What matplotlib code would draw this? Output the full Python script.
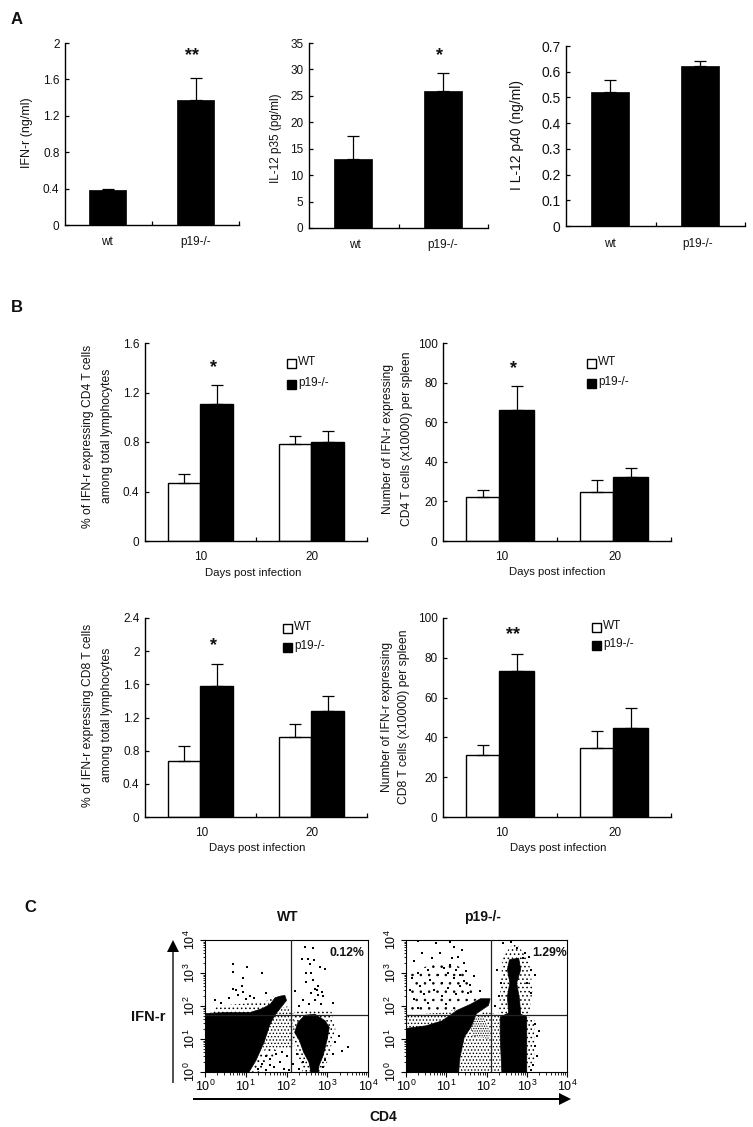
import math
import matplotlib
matplotlib.use("Agg")
import matplotlib.pyplot as plt
from matplotlib.patches import Polygon, Rectangle, FancyArrow
from matplotlib.ticker import LogLocator, NullFormatter, FuncFormatter

plt.rcParams['font.family'] = ['Liberation Sans', 'DejaVu Sans']
plt.rcParams['mathtext.fontset'] = 'custom'
plt.rcParams['mathtext.rm'] = 'Liberation Sans'
plt.rcParams['hatch.linewidth'] = 0.6

W, H = 753, 1127

# Panel A
genotypes = ['wt', 'p19-/-']
ifn_mean = [0.38, 1.37]
ifn_err = [0.02, 0.25]
p35_mean = [13, 26]
p35_err = [4.4, 3.4]
p40_mean = [0.52, 0.622]
p40_err = [0.048, 0.018]

# Panel B
days = ['10', '20']
cd4_pct_wt = [0.465, 0.785]
cd4_pct_wt_err = [0.075, 0.065]
cd4_pct_ko = [1.11, 0.80]
cd4_pct_ko_err = [0.15, 0.085]
cd4_num_wt = [22, 25]
cd4_num_wt_err = [4, 6]
cd4_num_ko = [66, 32.5]
cd4_num_ko_err = [12.5, 4.5]
cd8_pct_wt = [0.68, 0.97]
cd8_pct_wt_err = [0.18, 0.15]
cd8_pct_ko = [1.58, 1.28]
cd8_pct_ko_err = [0.27, 0.18]
cd8_num_wt = [31, 34.5]
cd8_num_wt_err = [5, 8.5]
cd8_num_ko = [73.5, 44.5]
cd8_num_ko_err = [8.5, 10.5]

# Panel C, everything in log10 units of the two stains
wt_dense = [
    [(0, 1.77), (0.5, 1.8), (1.1, 1.8), (1.4, 1.92), (1.6, 2.05), (1.72, 2.25), (1.85, 2.3), (1.96, 2.32),
     (2.0, 2.17), (1.84, 1.92), (1.71, 1.72), (1.58, 1.4), (1.45, 0.9), (1.25, 0.35), (1.08, 0), (0, 0)],
    [(2.28, 1.5), (2.45, 1.72), (2.7, 1.75), (2.95, 1.55), (3.05, 1.35), (3.0, 1.0), (2.9, 0.5),
     (2.8, 0.2), (2.78, 0), (2.6, 0), (2.55, 0.3), (2.42, 0.6), (2.32, 0.95), (2.2, 1.2)],
]
wt_speckle = [
    ([(0.1, 1.75), (0.3, 2.0), (1.0, 2.08), (1.5, 2.15), (1.7, 2.3), (1.7, 1.75)], '....'),
    ([(1.45, 1.8), (2.05, 2.0), (2.3, 1.5), (2.25, 0.95), (2.1, 0.7), (1.6, 0.7), (1.4, 0.6), (1.5, 1.2)], '.....'),
    ([(2.2, 1.9), (3.1, 1.85), (3.2, 1.3), (3.0, 0.3), (2.85, 0), (2.4, 0), (2.15, 1.0)], '....'),
    ([(1.0, 0), (1.3, 0.5), (1.6, 0.75), (1.85, 0.6), (1.5, 0.3), (1.4, 0)], '...'),
]
wt_dots = [
    (0.69, 3.27), (1.02, 3.19), (0.69, 3.02), (1.39, 3.0), (0.94, 2.84), (0.9, 2.62), (0.69, 2.52),
    (0.77, 2.47), (0.94, 2.42), (0.8, 2.32), (1.1, 2.3), (0.6, 2.25), (1.0, 2.2), (1.2, 2.25),
    (1.5, 2.4), (0.25, 2.17), (0.4, 2.1), (2.45, 3.79), (2.64, 3.77), (2.37, 3.42), (2.53, 3.42),
    (2.67, 3.39), (2.57, 3.27), (2.82, 3.19), (2.94, 3.12), (2.61, 2.99), (2.49, 2.99), (2.65, 2.79),
    (2.47, 2.72), (2.78, 2.62), (2.69, 2.52), (2.86, 2.42), (2.78, 2.32), (2.41, 2.17), (2.69, 2.17),
    (2.75, 2.47), (2.6, 2.4), (2.9, 2.3), (3.15, 2.1), (2.55, 2.05), (2.3, 2.0), (2.85, 2.05),
    (2.2, 2.45), (3.3, 1.1), (3.5, 0.75), (3.35, 0.65), (3.2, 0.9), (3.15, 0.55), (1.3, 0.1),
    (1.4, 0.25), (1.5, 0.05), (1.6, 0.4), (1.7, 0.15), (1.85, 0.3), (1.5, 0.5), (1.75, 0.55),
    (1.95, 0.1), (2.0, 0.5), (2.15, 0.25), (2.3, 0.1), (2.4, 0.3), (2.25, 0.55), (2.9, 0.15),
    (2.95, 0.35), (1.25, 0.45), (1.6, 0.2), (2.05, 0.05), (1.9, 0.6),
]
ko_dense = [
    [(0, 1.32), (0.5, 1.40), (0.9, 1.55), (1.27, 1.87), (1.6, 2.05), (1.85, 2.22), (2.09, 2.22),
     (2.05, 2.02), (1.75, 1.77), (1.62, 1.37), (1.45, 1.07), (1.33, 0.37), (1.31, 0), (0, 0)],
    [(2.34, 1.67), (2.52, 1.77), (2.85, 1.75), (3.0, 1.67), (3.0, 0), (2.38, 0), (2.34, 1.07)],
    [(2.55, 1.75), (2.52, 2.3), (2.58, 2.7), (2.52, 3.1), (2.57, 3.4), (2.8, 3.45), (2.85, 3.1),
     (2.75, 2.7), (2.82, 2.2), (2.85, 1.75)],
]
ko_speckle = [
    ([(1.3, 0), (1.45, 1.1), (1.65, 1.55), (1.95, 1.85), (2.35, 1.7), (2.35, 0)], '.....'),
    ([(1.65, 1.1), (1.6, 1.6), (1.9, 1.7), (2.1, 1.2), (2.05, 1.0)], '.......'),
    ([(0, 1.3), (0, 1.72), (0.9, 1.8), (1.25, 1.9), (0.9, 1.5), (0.5, 1.35)], '.....'),
    ([(0.1, 1.75), (0.1, 3.0), (0.9, 3.4), (1.5, 3.1), (1.8, 2.2), (1.2, 1.9)], '..'),
    ([(2.3, 1.7), (2.4, 3.5), (2.7, 3.95), (3.05, 3.4), (3.15, 2.5), (3.05, 1.7)], '....'),
    ([(2.95, 1.7), (3.2, 1.6), (3.2, 0.3), (2.95, 0.0)], '....'),
]
ko_dots = [
    (0.3, 3.97), (0.75, 3.9), (1.1, 3.95), (1.2, 3.8), (0.4, 3.6), (0.65, 3.45), (0.2, 3.35),
    (0.85, 3.6), (1.3, 3.5), (1.4, 3.7), (1.15, 3.45), (1.45, 3.3), (1.1, 3.25), (0.95, 3.15),
    (0.55, 3.1), (0.3, 3.0), (1.25, 3.1), (1.5, 3.05), (1.35, 2.95), (1.05, 3.0), (0.8, 2.95),
    (0.15, 2.85), (1.7, 2.9), (1.6, 2.65), (1.45, 2.75), (1.2, 2.85), (0.9, 2.7), (0.6, 2.8),
    (0.35, 2.6), (0.1, 2.5), (1.35, 2.6), (1.05, 2.55), (0.7, 2.5), (0.45, 2.35), (1.85, 2.45),
    (1.55, 2.4), (1.25, 2.35), (0.9, 2.3), (0.2, 2.2), (0.55, 2.1), (1.0, 2.05), (0.3, 1.95),
    (2.6, 3.95), (2.4, 3.9), (2.75, 3.75), (2.95, 3.6), (3.05, 3.5), (2.9, 3.45), (3.1, 3.1),
    (3.2, 2.95), (3.0, 2.7), (3.1, 2.4), (2.35, 2.7), (2.3, 2.3), (2.25, 3.1), (2.2, 2.0),
    (3.2, 1.45), (3.25, 1.1), (3.2, 0.8), (3.25, 0.5), (3.3, 1.25), (3.15, 0.2), (3.1, 0.05),
]

stain_ticks = [1, 10, 100, 1000, 10000]


def axes_px(left, top, right, bottom):
    return fig.add_axes([left / W, 1 - bottom / H, (right - left) / W, (bottom - top) / H])


def text_px(x, y, s, **kw):
    kw.setdefault('ha', 'center')
    kw.setdefault('va', 'center')
    kw.setdefault('color', '#111111')
    return fig.text(x / W, 1 - y / H, s, **kw)


def style_bar_axes(ax, ymax, yticks, fs):
    ax.set_xlim(0, 2)
    ax.set_ylim(0, ymax)
    ax.set_yticks(yticks)
    ax.set_yticklabels([f'{t:g}' for t in yticks], fontsize=fs, color='#111111')
    ax.set_xticks([1, 2])
    ax.set_xticklabels([])
    ax.tick_params(direction='in', length=3, width=0.9, pad=4)
    ax.patch.set_alpha(0)
    for side in ['top', 'right']:
        ax.spines[side].set_visible(False)
    for side in ['left', 'bottom']:
        ax.spines[side].set_linewidth(1.0)


def bars_a(box, mean, err, ymax, yticks, fs=8):
    ax = axes_px(*box)
    ax.bar([0.49, 1.5], mean, width=0.43, color='black', edgecolor='black', linewidth=0.5)
    ax.errorbar([0.49, 1.5], mean, yerr=[[0, 0], err], fmt='none', ecolor='black', elinewidth=0.9,
                capsize=4.3, capthick=0.9)
    style_bar_axes(ax, ymax, yticks, fs)
    return ax


def bars_b(box, wt, wt_err, ko, ko_err, ymax, yticks):
    ax = axes_px(*box)
    ax.bar([0.35, 1.35], wt, width=0.29, color='white', edgecolor='black', linewidth=1.0)
    ax.bar([0.645, 1.645], ko, width=0.30, color='black', edgecolor='black', linewidth=1.0)
    ax.errorbar([0.35, 1.35], wt, yerr=[[0, 0], wt_err], fmt='none', ecolor='black', elinewidth=0.9,
                capsize=4.3, capthick=0.9)
    ax.errorbar([0.645, 1.645], ko, yerr=[[0, 0], ko_err], fmt='none', ecolor='black', elinewidth=0.9,
                capsize=4.3, capthick=0.9)
    style_bar_axes(ax, ymax, yticks, 8.5)
    return ax


def legend_b(x, y_wt, y_ko, tx):
    fig.add_artist(Rectangle((x / W, 1 - (y_wt + 4.5) / H), 9 / W, 9 / H, transform=fig.transFigure,
                             facecolor='white', edgecolor='black', linewidth=1.0))
    fig.add_artist(Rectangle((x / W, 1 - (y_ko + 4.5) / H), 9 / W, 9 / H, transform=fig.transFigure,
                             facecolor='black', edgecolor='black', linewidth=1.0))
    text_px(tx, y_wt - 1, 'WT', ha='left', fontsize=8.5)
    text_px(tx, y_ko - 1, 'p19-/-', ha='left', fontsize=8.5)


def flow_panel(box, dense, speckle, dots):
    ax = axes_px(*box)
    ax.set_xscale('log')
    ax.set_yscale('log')
    ax.set_xlim(1, 10000)
    ax.set_ylim(1, 10000)
    for verts, hatch in speckle:
        ax.add_patch(Polygon([(10 ** a, 10 ** b) for a, b in verts], facecolor='white', edgecolor='black',
                             linewidth=0, hatch=hatch, zorder=1))
    for verts in dense:
        ax.add_patch(Polygon([(10 ** a, 10 ** b) for a, b in verts], facecolor='black', edgecolor='black',
                             linewidth=0.5, zorder=2))
    ax.scatter([10 ** d[0] for d in dots], [10 ** d[1] for d in dots], s=1.2, marker='s', color='black',
               linewidths=0, zorder=3)
    ax.axvline(10 ** 2.1, color='#222222', lw=0.9, zorder=4)
    ax.axhline(10 ** 1.72, color='#222222', lw=0.9, zorder=4)
    fmt = FuncFormatter(lambda v, p: '$\\mathregular{10^{%d}}$' % round(math.log10(v)))
    for axis in [ax.xaxis, ax.yaxis]:
        axis.set_major_locator(LogLocator(base=10, numticks=6))
        axis.set_minor_locator(LogLocator(base=10, subs=range(2, 10), numticks=6))
        axis.set_major_formatter(fmt)
        axis.set_minor_formatter(NullFormatter())
    ax.set_xticks(stain_ticks)
    ax.set_yticks(stain_ticks)
    ax.tick_params(which='major', direction='out', length=3.5, width=0.8, labelsize=9, pad=1.5)
    ax.tick_params(which='minor', direction='out', length=1.8, width=0.6)
    for lab in ax.get_yticklabels():
        lab.set_rotation(90)
        lab.set_va('center')
    for s in ax.spines.values():
        s.set_linewidth(0.8)
    return ax


fig = plt.figure(figsize=(W / 100, H / 100), dpi=100)

# A
bars_a((65, 43, 239, 225), ifn_mean, ifn_err, 2, [0, 0.4, 0.8, 1.2, 1.6, 2], 8.5)
bars_a((309, 43, 488, 228), p35_mean, p35_err, 35, [0, 5, 10, 15, 20, 25, 30, 35], 8.5)
bars_a((566, 46, 745, 226), p40_mean, p40_err, 0.7, [0, 0.1, 0.2, 0.3, 0.4, 0.5, 0.6, 0.7], 10)

text_px(27, 133, 'IFN-r (ng/ml)', rotation=90, fontsize=9)
text_px(276, 138, 'IL-12 p35 (pg/ml)', rotation=90, fontsize=8.5)
text_px(517, 135, 'I L-12 p40 (ng/ml)', rotation=90, fontsize=10)
for xa, xb, y in [(107, 196, 242), (355, 443, 245), (610, 698, 244)]:
    text_px(xa, y, genotypes[0], fontsize=8.5)
    text_px(xb, y, genotypes[1], fontsize=8.5)
text_px(192, 56, '**', fontsize=13, fontweight='bold')
text_px(439, 56, '*', fontsize=13, fontweight='bold')

# B
bars_b((145, 343, 367, 541), cd4_pct_wt, cd4_pct_wt_err, cd4_pct_ko, cd4_pct_ko_err, 1.6, [0, 0.4, 0.8, 1.2, 1.6])
bars_b((443, 343, 671, 541), cd4_num_wt, cd4_num_wt_err, cd4_num_ko, cd4_num_ko_err, 100, [0, 20, 40, 60, 80, 100])
bars_b((145, 618, 367, 817), cd8_pct_wt, cd8_pct_wt_err, cd8_pct_ko, cd8_pct_ko_err, 2.4, [0, 0.4, 0.8, 1.2, 1.6, 2, 2.4])
bars_b((443, 618, 671, 817), cd8_num_wt, cd8_num_wt_err, cd8_num_ko, cd8_num_ko_err, 100, [0, 20, 40, 60, 80, 100])

text_px(88, 436, '% of IFN-r expressing CD4 T cells', rotation=90, fontsize=8.7)
text_px(107, 436, 'among total lymphocytes', rotation=90, fontsize=8.7)
text_px(388, 439, 'Number of IFN-r expressing', rotation=90, fontsize=8.7)
text_px(407, 439, 'CD4 T cells (x10000) per spleen', rotation=90, fontsize=8.7)
text_px(88, 715, '% of IFN-r expressing CD8 T cells', rotation=90, fontsize=8.7)
text_px(107, 715, 'among total lymphocytes', rotation=90, fontsize=8.7)
text_px(387, 717, 'Number of IFN-r expressing', rotation=90, fontsize=8.7)
text_px(404, 717, 'CD8 T cells (x10000) per spleen', rotation=90, fontsize=8.7)

for x10, x20, xd, y10, yd in [(201, 312, 253, 557, 573), (502, 615, 557, 557, 572),
                              (202, 312, 257, 833, 848), (502, 615, 558, 833, 848)]:
    text_px(x10, y10, days[0], fontsize=8.5)
    text_px(x20, y10, days[1], fontsize=8.5)
    text_px(xd, yd, 'Days post infection', fontsize=8.2)

legend_b(287, 363, 384, 298)
legend_b(587, 363, 383, 598)
legend_b(283, 628, 647, 294)
legend_b(592, 627, 645, 603)

text_px(213, 368, '*', fontsize=13, fontweight='bold')
text_px(513, 369, '*', fontsize=13, fontweight='bold')
text_px(213, 646, '*', fontsize=13, fontweight='bold')
text_px(513, 635, '**', fontsize=13, fontweight='bold')

# C
flow_panel((205, 940, 368, 1072), wt_dense, wt_speckle, wt_dots)
flow_panel((406, 940, 567, 1072), ko_dense, ko_speckle, ko_dots)
text_px(288, 917, 'WT', fontsize=10, fontweight='bold')
text_px(482, 917, 'p19-/-', fontsize=10, fontweight='bold')
text_px(148, 1017, 'IFN-r', fontsize=10.5, fontweight='bold')
text_px(383, 1117, 'CD4', fontsize=10, fontweight='bold')
text_px(347, 953, '0.12%', fontsize=8.8, fontweight='bold')
text_px(550, 953, '1.29%', fontsize=8.8, fontweight='bold')

fig.add_artist(FancyArrow(173 / W, 1 - 1083 / H, 0, (1083 - 952) / H, width=2 / H, head_width=12 / W,
                          head_length=12 / H, length_includes_head=False, transform=fig.transFigure,
                          color='black', linewidth=0))
fig.add_artist(FancyArrow(193 / W, 1 - 1099 / H, (559 - 193) / W, 0, width=2 / H, head_width=12 / H,
                          head_length=12 / W, length_includes_head=False, transform=fig.transFigure,
                          color='black', linewidth=0))

text_px(17, 20, 'A', fontsize=12, fontweight='bold')
text_px(17, 307, 'B', fontsize=12, fontweight='bold')
text_px(30, 907, 'C', fontsize=12, fontweight='bold')

fig.savefig('out.png', dpi=100)
